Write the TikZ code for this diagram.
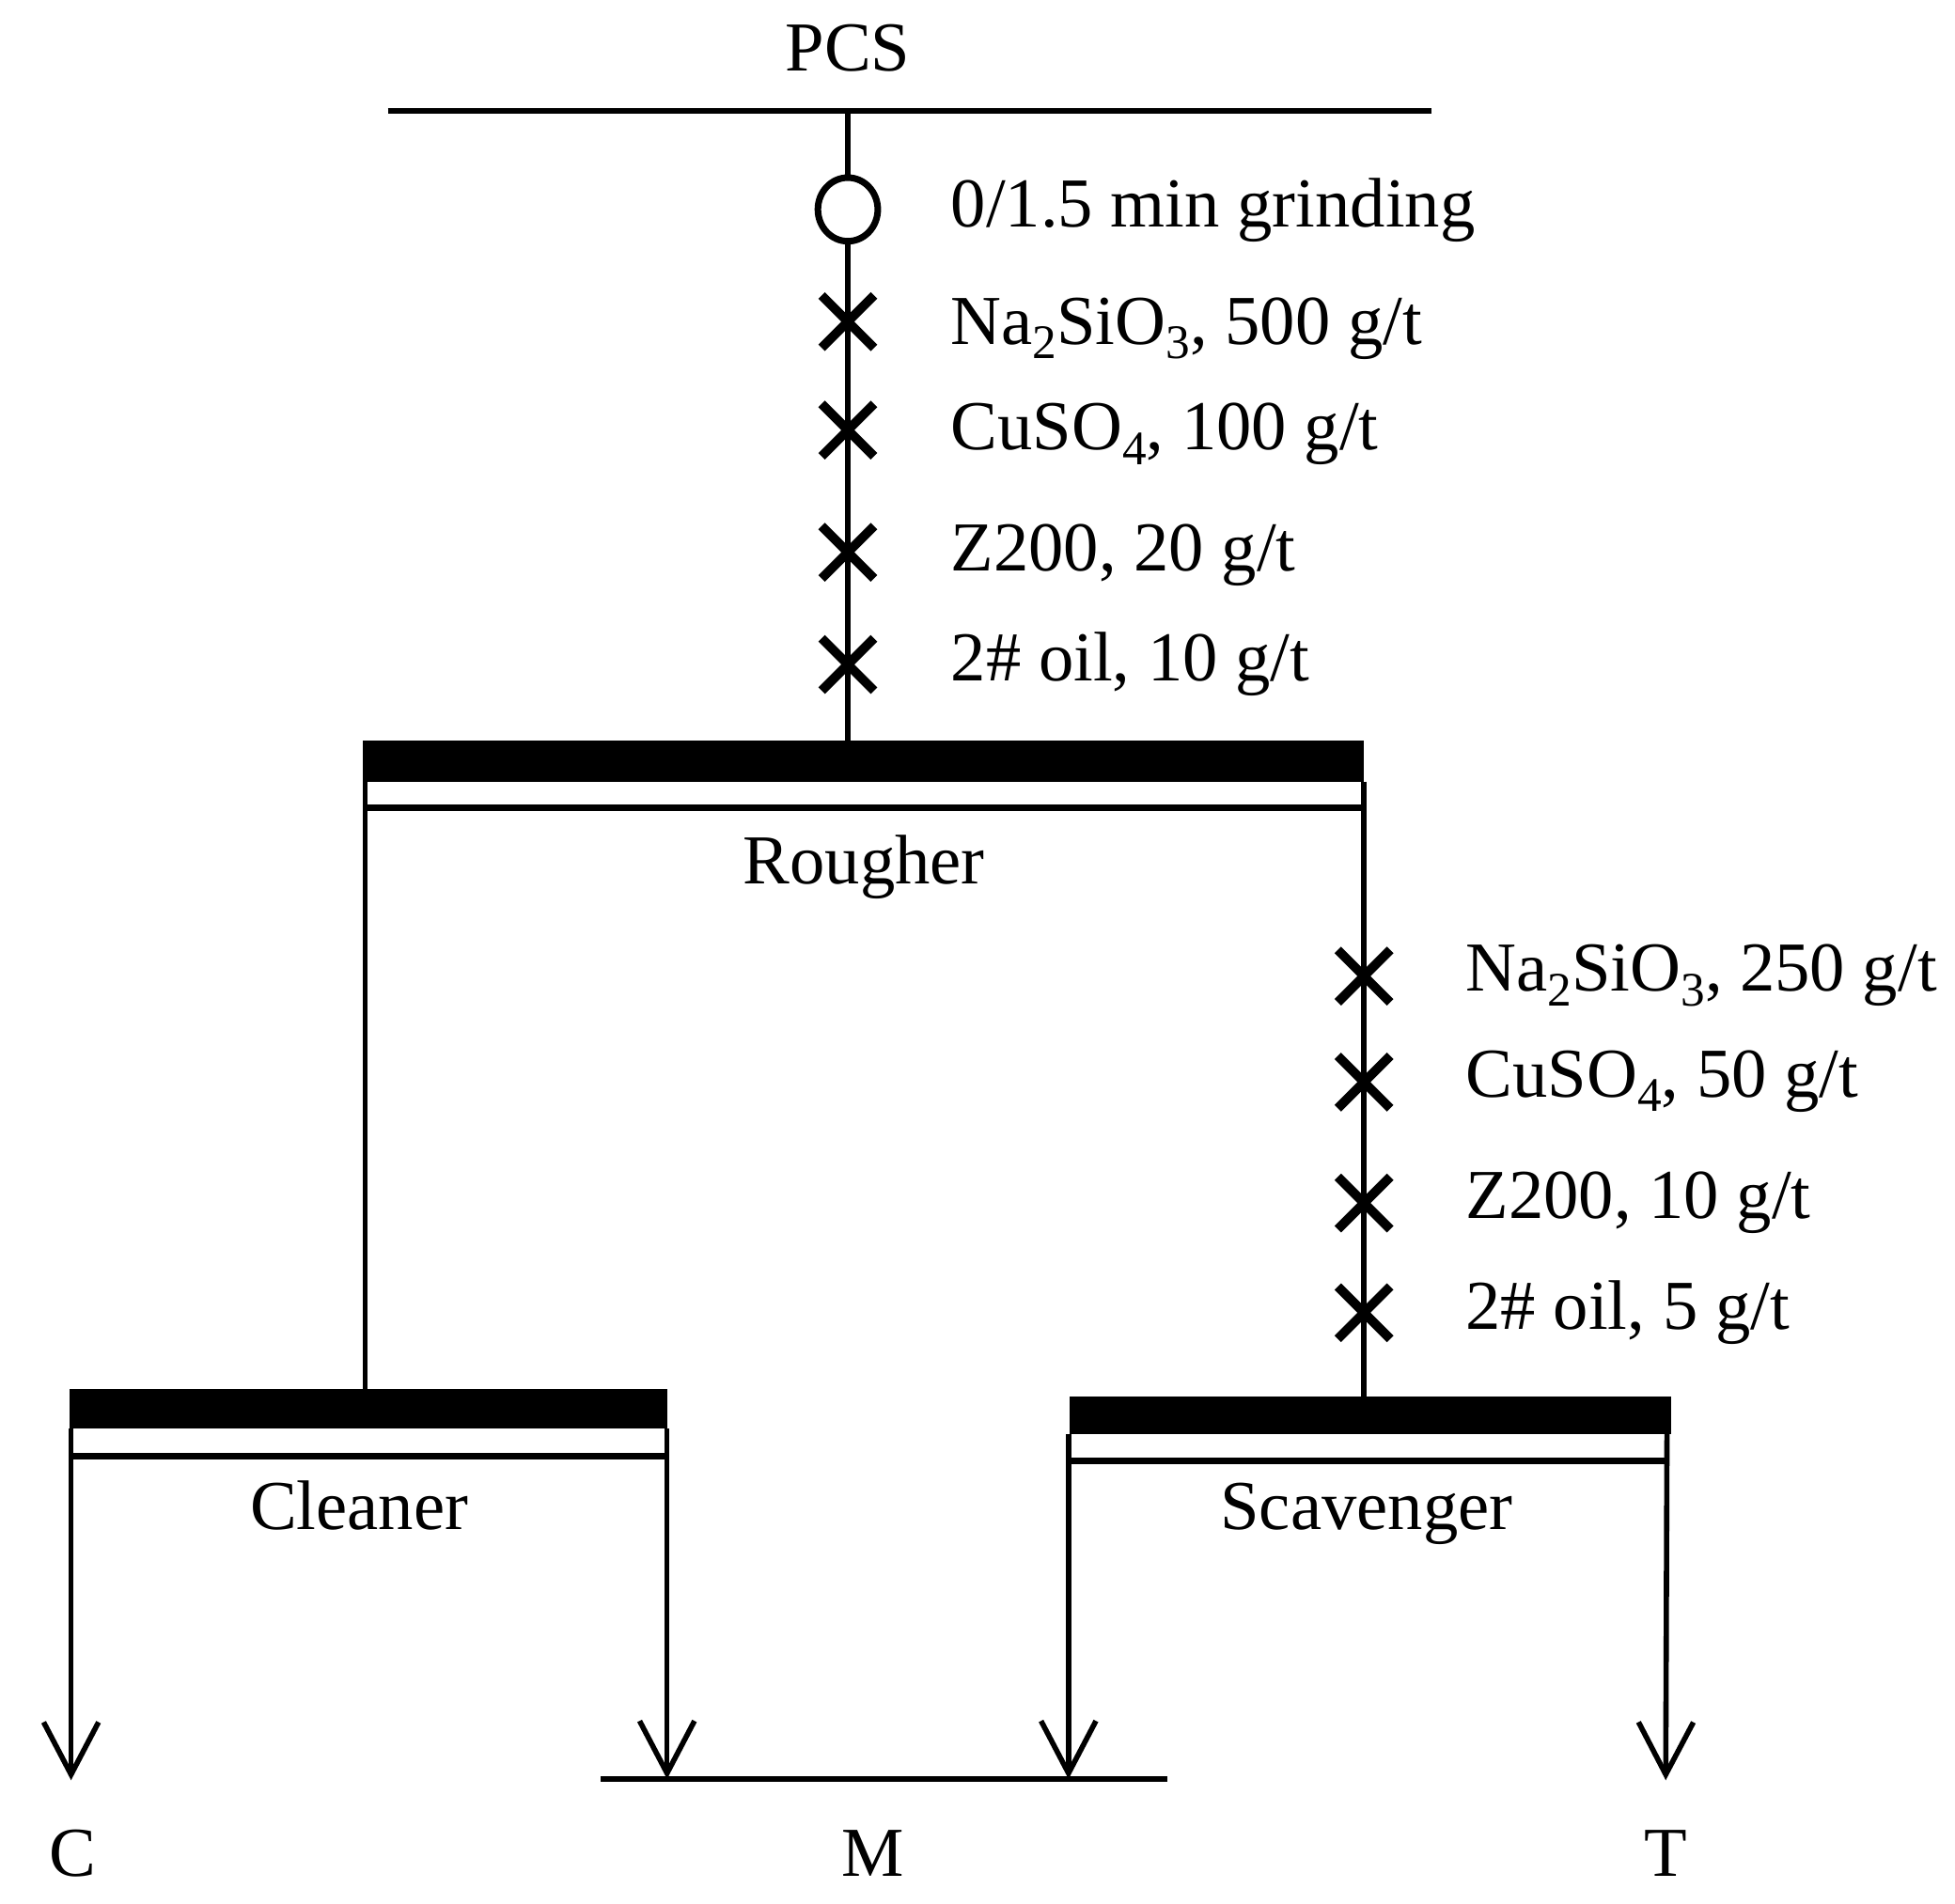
\documentclass[tikz,border=0pt]{standalone}
\usepackage{fontspec}
\setmainfont{Liberation Serif}
\usetikzlibrary{arrows.meta,shapes.geometric}
\newcommand{\chsub}[1]{\raisebox{-0.45ex}{\fontsize{11}{11}\selectfont #1}}
\begin{document}
\begin{tikzpicture}[x=0.01cm,y=-0.01cm,
  ln/.style={line width=1.2pt},
  thinbar/.style={line width=1.5pt},
  xmark/.style={line width=2.1pt},
  lbl/.style={anchor=base west, inner sep=0pt, font=\fontsize{16}{19}\selectfont},
  ctr/.style={anchor=base, inner sep=0pt, font=\fontsize{16}{19}\selectfont},
  arr/.style={ln, -{Straight Barb[length=0.42cm, width=0.44cm, line width=1.2pt]}},
  xm/.pic={\draw[xmark] (-21,-21)--(21,21) (-21,21)--(21,-21);}
]
\useasboundingbox (0,0) rectangle (1568,1527);

% feed
\node[ctr] (pcs) at (680,57) {PCS};
\coordinate (feedL) at (311,89);
\coordinate (feedR) at (1148,89);
\coordinate (feedM) at (680,89);
\draw[ln] (feedL) -- (feedR);

% grinding circle
\node[draw, ellipse, line width=1.5pt, minimum width=0.48cm, minimum height=0.51cm, inner sep=0pt] (grind) at (680,168) {};
\node[lbl] (tgrind) at (762,182) {0/1.5 min grinding};

% rougher cell
\fill (291,594) rectangle (1094,627);
\coordinate (rIn) at (680,594);
\coordinate (rL) at (293,627);
\coordinate (rR) at (1094,627);
\draw[thinbar] (293,648) -- (1094,648);
\node[ctr] (rougher) at (693,709) {Rougher};

\draw[ln] (feedM) -- (grind.north);
\draw[ln] (grind.south) -- (rIn);

\pic at (680,258) {xm};
\pic at (680,345) {xm};
\pic at (680,443) {xm};
\pic at (680,533) {xm};
\node[lbl] at (762,276) {Na\chsub{2}SiO\chsub{3}, 500 g/t};
\node[lbl] at (762,361) {CuSO\chsub{4}, 100 g/t};
\node[lbl] at (762,458) {Z200, 20 g/t};
\node[lbl] at (762,546) {2\# oil, 10 g/t};

% cleaner cell
\fill (56,1114) rectangle (535,1146);
\coordinate (cIn) at (293,1114);
\draw[thinbar] (57,1168) -- (535,1168);
\node[ctr] (cleaner) at (288,1227) {Cleaner};

% scavenger cell
\fill (858,1120) rectangle (1340,1150);
\coordinate (sIn) at (1094,1120);
\draw[thinbar] (858,1172) -- (1338,1172);
\node[ctr] (scav) at (1096,1227) {Scavenger};

\draw[ln] (rL) -- (cIn);
\draw[ln] (rR) -- (sIn);

\pic at (1094,783) {xm};
\pic at (1094,868) {xm};
\pic at (1094,965) {xm};
\pic at (1094,1053) {xm};
\node[lbl] at (1175,795) {Na\chsub{2}SiO\chsub{3}, 250 g/t};
\node[lbl] at (1175,880) {CuSO\chsub{4}, 50 g/t};
\node[lbl] at (1175,977) {Z200, 10 g/t};
\node[lbl] at (1175,1066) {2\# oil, 5 g/t};

% products
\coordinate (mL) at (482,1427);
\coordinate (mR) at (936,1427);
\draw[line width=1.4pt] (mL) -- (mR);
\coordinate (cTip) at (57,1428);
\coordinate (c2Tip) at (535,1427);
\coordinate (s1Tip) at (857,1427);
\coordinate (s2Tip) at (1336,1428);
\draw[arr] (57,1146) -- (cTip);
\draw[arr] (535,1146) -- (c2Tip);
\draw[arr] (857,1150) -- (s1Tip);
\draw[arr] (1337,1150) -- (s2Tip);

\node[ctr] (C) at (58,1505) {C};
\node[ctr] (M) at (700,1505) {M};
\node[ctr] (T) at (1336,1505) {T};
\end{tikzpicture}
\end{document}
